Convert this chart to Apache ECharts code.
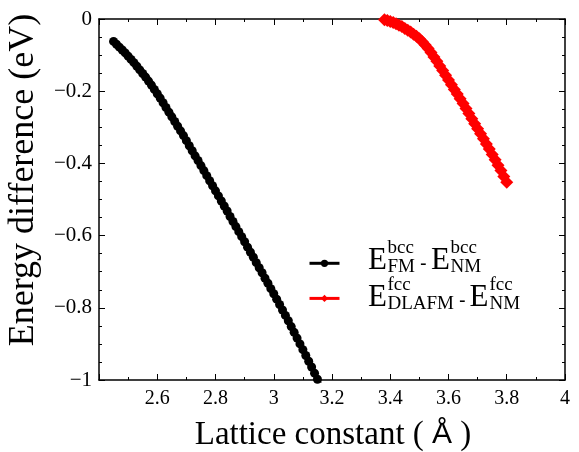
<!DOCTYPE html>
<html><head><meta charset="utf-8">
<script src="https://cdn.jsdelivr.net/npm/echarts@6/dist/echarts.min.js"></script>
<style>html,body{margin:0;padding:0;background:#fff}#c{width:579px;height:452px}</style>
</head><body><div id="c"></div>
<script>
// ---- data ----
const latticeBcc = [2.45,2.46,2.47,2.48,2.49,2.50,2.51,2.52,2.53,2.54,2.55,2.56,2.57,2.58,2.59,2.60,2.61,2.62,2.63,2.64,2.65,2.66,2.67,2.68,2.69,2.70,2.71,2.72,2.73,2.74,2.75,2.76,2.77,2.78,2.79,2.80,2.81,2.82,2.83,2.84,2.85,2.86,2.87,2.88,2.89,2.90,2.91,2.92,2.93,2.94,2.95,2.96,2.97,2.98,2.99,3.00,3.01,3.02,3.03,3.04,3.05,3.06,3.07,3.08,3.09,3.10,3.11,3.12,3.13,3.14,3.15,3.16];
const energyBcc = [-0.062,-0.070,-0.078,-0.086,-0.094,-0.103,-0.112,-0.121,-0.131,-0.141,-0.151,-0.161,-0.172,-0.183,-0.195,-0.207,-0.219,-0.232,-0.245,-0.258,-0.271,-0.284,-0.297,-0.310,-0.323,-0.337,-0.351,-0.365,-0.379,-0.392,-0.406,-0.420,-0.434,-0.448,-0.462,-0.476,-0.490,-0.504,-0.518,-0.532,-0.547,-0.561,-0.575,-0.589,-0.603,-0.617,-0.632,-0.646,-0.660,-0.675,-0.689,-0.703,-0.718,-0.732,-0.747,-0.761,-0.776,-0.791,-0.806,-0.821,-0.836,-0.852,-0.868,-0.884,-0.900,-0.916,-0.932,-0.948,-0.964,-0.981,-0.998,-1.015];
const latticeFcc = [3.38,3.39,3.40,3.41,3.42,3.43,3.44,3.45,3.46,3.47,3.48,3.49,3.50,3.51,3.52,3.53,3.54,3.55,3.56,3.57,3.58,3.59,3.60,3.61,3.62,3.63,3.64,3.65,3.66,3.67,3.68,3.69,3.70,3.71,3.72,3.73,3.74,3.75,3.76,3.77,3.78,3.79,3.80];
const energyFcc = [-0.002,-0.004,-0.007,-0.010,-0.013,-0.017,-0.021,-0.026,-0.031,-0.036,-0.042,-0.048,-0.055,-0.063,-0.072,-0.082,-0.093,-0.105,-0.117,-0.130,-0.143,-0.156,-0.169,-0.182,-0.195,-0.208,-0.221,-0.234,-0.248,-0.262,-0.276,-0.290,-0.304,-0.318,-0.332,-0.346,-0.360,-0.375,-0.390,-0.405,-0.420,-0.436,-0.452];
const seriesNames = ['E_FM^bcc - E_NM^bcc', 'E_DLAFM^fcc - E_NM^fcc'];
const xRange = [2.4, 4.0, 0.2];   // min, max, interval
const yRange = [-1, 0, 0.2];
const xTitle = 'Lattice constant ( {s|Å} )';
const yTitle = 'Energy difference (eV)';
// legend label pieces: [text, kind]  kind: E = main, u = superscript, d = subscript, h = hyphen
const legendRow1 = [['E','E'],['bcc','u'],['FM','d'],['-','h'],['E','E'],['bcc','u'],['NM','d']];
const legendRow2 = [['E','E'],['fcc','u'],['DLAFM','d'],['-','h'],['E','E'],['fcc','u'],['NM','d']];

const SERIF = 'Liberation Serif';
const chart = echarts.init(document.getElementById('c'), null, {renderer: 'canvas'});

function pairs(xs, ys) { return xs.map((x, i) => [x, ys[i]]); }

function labelGraphics(row, baseY, xs) {
  const out = [];
  row.forEach((p, i) => {
    const [t, k] = p;
    let fs = 31, fam = SERIF, y = baseY;
    if (k === 'u') { fs = 19; y = baseY - 16.5; }
    else if (k === 'd') { fs = 19; y = baseY + 2; }
    else if (k === 'h') { fs = 20; fam = 'Liberation Sans'; }
    out.push({
      type: 'text', x: xs[i], y: y - 0.34 * fs,
      style: { text: t, fontFamily: fam, fontSize: fs, fill: '#000', align: 'left', verticalAlign: 'middle' }
    });
  });
  return out;
}

const axisCommon = {
  type: 'value',
  axisLine: { show: true, onZero: false, lineStyle: { color: '#000', width: 1.5 } },
  axisTick: { show: true, inside: true, length: 6, lineStyle: { color: '#000', width: 1 } },
  minorTick: { show: true, length: 3, lineStyle: { color: '#000', width: 1 } },
  splitLine: { show: false },
  minorSplitLine: { show: false }
};

const option = {
  backgroundColor: '#fff',
  animation: false,
  grid: { left: 99, right: 14, top: 19, bottom: 72, containLabel: false },
  xAxis: [
    Object.assign({}, axisCommon, {
      position: 'bottom', min: xRange[0], max: xRange[1], interval: xRange[2],
      minorTick: Object.assign({}, axisCommon.minorTick, { splitNumber: 2 }),
      axisLabel: { show: true, showMinLabel: false, margin: 9, color: '#000', fontFamily: SERIF, fontSize: 20 }
    }),
    Object.assign({}, axisCommon, {
      position: 'top', min: xRange[0], max: xRange[1], interval: xRange[2],
      minorTick: Object.assign({}, axisCommon.minorTick, { splitNumber: 2 }),
      axisLabel: { show: false }
    })
  ],
  yAxis: [
    Object.assign({}, axisCommon, {
      position: 'left', min: yRange[0], max: yRange[1], interval: yRange[2],
      minorTick: Object.assign({}, axisCommon.minorTick, { splitNumber: 4 }),
      axisLabel: { show: true, margin: 7, color: '#000', fontFamily: SERIF, fontSize: 21,
        formatter: v => (Math.abs(v) < 1e-9 ? '0' : '\u2212' + (+Math.abs(v).toFixed(2))) }
    }),
    Object.assign({}, axisCommon, {
      position: 'right', min: yRange[0], max: yRange[1], interval: yRange[2],
      minorTick: Object.assign({}, axisCommon.minorTick, { splitNumber: 4 }),
      axisLabel: { show: false }
    })
  ],
  legend: {
    orient: 'vertical', left: 303, top: 253.8, itemWidth: 30, itemHeight: 9, itemGap: 27,
    formatter: () => '', textStyle: { fontSize: 8 },
    lineStyle: { width: 3 },
    data: seriesNames
  },
  series: [
    {
      name: seriesNames[0], type: 'line', data: pairs(latticeBcc, energyBcc),
      symbol: 'circle', symbolSize: 9, showAllSymbol: true,
      lineStyle: { color: '#000', width: 5 }, itemStyle: { color: '#000' }, clip: true
    },
    {
      name: seriesNames[1], type: 'line', data: pairs(latticeFcc, energyFcc),
      symbol: 'diamond', symbolSize: 13, showAllSymbol: true,
      lineStyle: { color: '#ff0000', width: 6 }, itemStyle: { color: '#ff0000' }, clip: true
    }
  ],
  graphic: [
    { type: 'text', x: 333, y: 435, style: { text: xTitle, fontFamily: SERIF, fontSize: 33, fill: '#000', align: 'center', verticalAlign: 'middle',
        rich: { s: { fontFamily: 'Liberation Sans', fontSize: 30 } } } },
    { type: 'text', x: 23.5, y: 180, rotation: Math.PI / 2, style: { text: yTitle, fontFamily: SERIF, fontSize: 36, fill: '#000', align: 'center', verticalAlign: 'middle' } }
  ].concat(
    labelGraphics(legendRow1, 271, [368, 387.5, 387.5, 420, 431, 450.5, 450.5]),
    labelGraphics(legendRow2, 308, [368, 387.5, 387.5, 459, 469.5, 489.5, 489.5])
  )
};
chart.setOption(option);
</script>
</body></html>
